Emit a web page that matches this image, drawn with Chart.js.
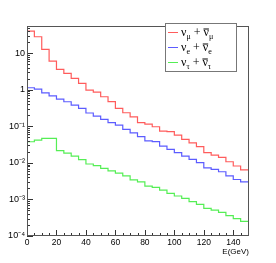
<!DOCTYPE html>
<html>
<head>
<meta charset="utf-8">
<script src="https://cdn.jsdelivr.net/npm/chart.js@4.4.0/dist/chart.umd.min.js"></script>
<style>
  body { margin: 0; background: #fff; }
  #wrap { width: 276px; height: 263px; }
</style>
</head>
<body>
<div id="wrap"><canvas id="flux" width="276" height="263"></canvas></div>
<script>
// histogram bin edges (GeV) and contents per flavour
const binEdges = [0, 5, 10, 15, 20, 25, 30, 35, 40, 45, 50, 55, 60, 65, 70, 75,
  80, 85, 90, 95, 100, 105, 110, 115, 120, 125, 130, 135, 140, 145, 150];
const numuFlux = [40, 28, 12.6, 6.0, 3.6, 2.8, 2.04, 1.49, 0.97, 0.86,
  0.64, 0.47, 0.31, 0.234, 0.18, 0.125, 0.115, 0.097, 0.074, 0.071,
  0.057, 0.044, 0.035, 0.0276, 0.0189, 0.0163, 0.0141, 0.0107, 0.0082, 0.0064];
const nueFlux = [1.13, 1.04, 0.82, 0.68, 0.553, 0.467, 0.38, 0.31, 0.23, 0.19,
  0.155, 0.125, 0.108, 0.082, 0.066, 0.052, 0.040, 0.038, 0.0288, 0.0234,
  0.0189, 0.0153, 0.0125, 0.0101, 0.0073, 0.0066, 0.0057, 0.0044, 0.0035, 0.0030];
const nutauFlux = [0.0377, 0.042, 0.0467, 0.0467, 0.0217, 0.0185, 0.0153, 0.0123, 0.0093, 0.0084,
  0.0071, 0.0060, 0.0052, 0.0044, 0.0034, 0.0030, 0.0023, 0.00214, 0.0018, 0.00147,
  0.00124, 0.00107, 0.00087, 0.00073, 0.00057, 0.00051, 0.00044, 0.00036, 0.00030, 0.00025];

const xTicks = [0, 20, 40, 60, 80, 100, 120, 140];
const yTicks = [1e-4, 1e-3, 1e-2, 1e-1, 1, 10];
const yTickLabels = ['10⁻⁴', '10⁻³', '10⁻²', '10⁻¹', '1', '10'];
const flavours = ['μ', 'e', 'τ'];
const colours = ['#ff5c5c', '#5c5cff', '#55ee55'];

const FONT = "'Liberation Sans', Arial, sans-serif";
const SERIF = "'Liberation Serif', 'Times New Roman', serif";
Chart.defaults.font.family = FONT;
Chart.defaults.color = '#000';

// one extra point at the last edge so the final bin gets drawn
function steps(values) {
  return binEdges.map((x, i) => ({ x: x, y: values[Math.min(i, values.length - 1)] }));
}

const rootStyle = {
  id: 'rootStyle',
  afterDatasetsDraw(chart) {
    const { ctx, chartArea: a, scales: { x, y } } = chart;
    ctx.save();
    ctx.strokeStyle = '#333';
    ctx.lineWidth = 1;
    ctx.beginPath();
    // ticks on y axis, inside the frame
    for (let d = 0; d < yTicks.length; d++) {
      for (let m = 1; m <= 9; m++) {
        const v = yTicks[d] * m;
        if (v > y.max) break;
        const py = Math.round(y.getPixelForValue(v)) + 0.5;
        const len = m === 1 ? 6 : 3;
        ctx.moveTo(a.left, py);
        ctx.lineTo(a.left + len, py);
      }
    }
    // ticks on x axis
    for (let v = 5; v < 150; v += 5) {
      const px = Math.round(x.getPixelForValue(v)) + 0.5;
      const len = v % 20 === 0 ? 6 : 3;
      ctx.moveTo(px, a.bottom);
      ctx.lineTo(px, a.bottom - len);
    }
    ctx.stroke();
    // frame
    ctx.strokeStyle = '#555';
    ctx.strokeRect(a.left + 0.5, a.top + 0.5, a.right - a.left, a.bottom - a.top - 1);

    // axis title
    ctx.fillStyle = '#000';
    ctx.font = '8px ' + FONT;
    ctx.textAlign = 'right';
    ctx.textBaseline = 'middle';
    ctx.fillText('E(GeV)', 249, 252);

    // legend box
    const bx = 165.5, by = 23.5, bw = 71, bh = 48;
    ctx.fillStyle = '#fff';
    ctx.fillRect(bx, by, bw, bh);
    ctx.strokeStyle = '#777';
    ctx.strokeRect(bx, by, bw, bh);
    const rows = [32.5, 47.5, 62.5];
    flavours.forEach((f, i) => {
      const ry = rows[i];
      ctx.strokeStyle = colours[i];
      ctx.beginPath();
      ctx.moveTo(168, ry);
      ctx.lineTo(178, ry);
      ctx.stroke();
      ctx.fillStyle = '#000';
      ctx.textAlign = 'left';
      ctx.textBaseline = 'alphabetic';
      let tx = 181;
      const base = ry + 3;
      ctx.font = '12px ' + SERIF;
      ctx.fillText('ν', tx, base);
      tx += ctx.measureText('ν').width;
      ctx.font = '8px ' + SERIF;
      ctx.fillText(f, tx, base + 3);
      tx += ctx.measureText(f).width;
      ctx.font = '12px ' + SERIF;
      ctx.fillText(' + ', tx, base);
      tx += ctx.measureText(' + ').width;
      const nuW = ctx.measureText('ν').width;
      ctx.fillText('ν', tx, base);
      ctx.strokeStyle = '#000';
      ctx.beginPath();
      ctx.moveTo(tx, base - 6.5);
      ctx.lineTo(tx + nuW, base - 6.5);
      ctx.stroke();
      tx += nuW;
      ctx.font = '8px ' + SERIF;
      ctx.fillText(f, tx, base + 3);
    });
    ctx.restore();
  }
};

new Chart(document.getElementById('flux'), {
  type: 'line',
  data: {
    datasets: [numuFlux, nueFlux, nutauFlux].map((vals, i) => ({
      label: 'ν' + flavours[i],
      data: steps(vals),
      stepped: true,
      borderColor: colours[i],
      borderWidth: 1.2,
      pointRadius: 0,
      fill: false
    }))
  },
  options: {
    responsive: false,
    animation: false,
    layout: { padding: { top: 26, right: 28, left: 0, bottom: 0 } },
    plugins: { legend: { display: false }, tooltip: { enabled: false } },
    scales: {
      x: {
        type: 'linear',
        min: 0,
        max: 150,
        grid: { display: false, drawTicks: false },
        border: { display: false },
        afterBuildTicks: s => { s.ticks = xTicks.map(v => ({ value: v })); },
        afterFit: s => { s.height = 27; },
        ticks: { padding: 2, maxRotation: 0, font: { size: 8.5 } }
      },
      y: {
        type: 'logarithmic',
        min: 1e-4,
        max: 55,
        grid: { display: false, drawTicks: false },
        border: { display: false },
        afterBuildTicks: s => { s.ticks = yTicks.map(v => ({ value: v })); },
        afterFit: s => { s.width = 27; },
        ticks: {
          padding: 2,
          font: { size: 9 },
          callback: v => yTickLabels[yTicks.findIndex(t => Math.abs(t - v) / t < 1e-6)]
        }
      }
    }
  },
  plugins: [rootStyle]
});
</script>
</body>
</html>
